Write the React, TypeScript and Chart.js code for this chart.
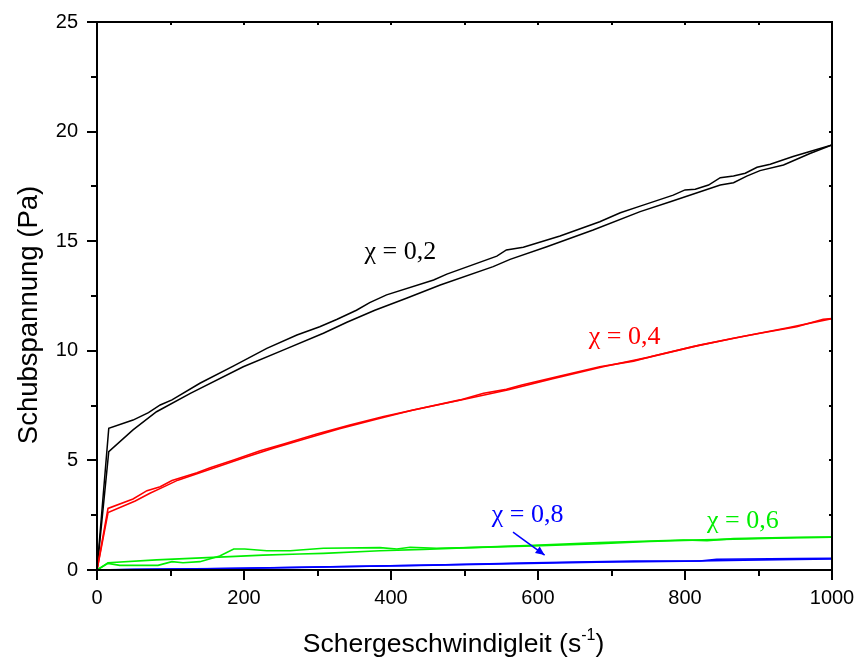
import React, { useEffect, useRef } from "react";
import { Chart, registerables } from "chart.js";
Chart.register(...registerables);

// ---- data ----
const blackUpX = [0, 16, 49, 70, 86, 102, 140, 186, 231, 272, 303, 326, 353, 371, 394, 458, 476, 544, 557, 580, 630, 684, 712, 739, 784, 800, 814, 832, 848, 866, 882, 898, 916, 947, 970, 1000];
const blackUpY = [0, 6.46, 6.84, 7.18, 7.53, 7.76, 8.52, 9.31, 10.11, 10.72, 11.1, 11.43, 11.85, 12.2, 12.55, 13.23, 13.5, 14.32, 14.6, 14.72, 15.24, 15.89, 16.3, 16.6, 17.1, 17.34, 17.37, 17.56, 17.9, 17.97, 18.1, 18.37, 18.51, 18.86, 19.09, 19.39];
const blackDownX = [0, 16, 49, 81, 127, 199, 254, 308, 340, 378, 421, 467, 539, 562, 612, 675, 739, 780, 848, 866, 884, 902, 934, 952, 970, 1000];
const blackDownY = [0, 5.4, 6.39, 7.22, 8.06, 9.27, 10.04, 10.8, 11.3, 11.85, 12.4, 13.0, 13.84, 14.17, 14.75, 15.51, 16.35, 16.8, 17.56, 17.67, 17.97, 18.22, 18.48, 18.74, 19.0, 19.39];

const redUpX = [0, 15, 49, 68, 86, 102, 136, 154, 186, 222, 254, 299, 344, 390, 494, 526, 557, 578, 630, 684, 730, 757, 811, 866, 902, 952, 988, 1000];
const redUpY = [0, 2.81, 3.24, 3.62, 3.8, 4.08, 4.44, 4.67, 5.02, 5.44, 5.75, 6.2, 6.61, 7.0, 7.76, 8.06, 8.24, 8.44, 8.85, 9.27, 9.53, 9.76, 10.19, 10.57, 10.8, 11.1, 11.44, 11.47];
const redDownX = [0, 15, 52, 72, 90, 110, 150, 200, 240, 280, 330, 380, 430, 500, 560, 620, 690, 750, 820, 880, 940, 1000];
const redDownY = [0, 2.62, 3.15, 3.5, 3.78, 4.1, 4.55, 5.12, 5.56, 5.95, 6.45, 6.88, 7.3, 7.79, 8.22, 8.73, 9.28, 9.7, 10.26, 10.66, 11.05, 11.47];

const greenAX = [0, 15, 81, 127, 181, 226, 276, 308, 385, 444, 507, 594, 684, 752, 798, 866, 952, 1000];
const greenAY = [0, 0.33, 0.46, 0.53, 0.61, 0.68, 0.73, 0.76, 0.88, 0.94, 1.02, 1.1, 1.2, 1.3, 1.35, 1.41, 1.47, 1.5];
const greenBX = [0, 15, 31, 83, 102, 117, 140, 167, 186, 201, 231, 263, 276, 308, 385, 408, 426, 462, 507, 594, 684, 752, 798, 830, 866, 952, 1000];
const greenBY = [0, 0.3, 0.21, 0.21, 0.38, 0.33, 0.38, 0.64, 0.96, 0.96, 0.88, 0.88, 0.91, 0.99, 1.02, 0.96, 1.04, 0.99, 1.02, 1.13, 1.25, 1.32, 1.37, 1.34, 1.43, 1.49, 1.5];

const blueAX = [0, 50, 150, 276, 458, 594, 730, 820, 843, 952, 1000];
const blueAY = [0, 0.03, 0.06, 0.12, 0.23, 0.33, 0.41, 0.41, 0.49, 0.52, 0.53];
const blueBX = [0, 100, 200, 300, 420, 550, 680, 800, 880, 1000];
const blueBY = [0, 0.04, 0.08, 0.14, 0.2, 0.28, 0.36, 0.4, 0.45, 0.5];

// ---- ticks ----
const xMajorTicks = [0, 200, 400, 600, 800, 1000];
const xMinorTicks = [100, 300, 500, 700, 900];
const yMajorTicks = [0, 5, 10, 15, 20, 25];
const yMinorTicks = [2.5, 7.5, 12.5, 17.5, 22.5];

// ---- labels ----
const annotations = [
  { text: "\u03C7 = 0,2", x: 364, y: 14.48, color: "#000000" },
  { text: "\u03C7 = 0,4", x: 669, y: 10.64, color: "#ff0000" },
  { text: "\u03C7 = 0,8", x: 537, y: 2.49, color: "#0000ff" },
  { text: "\u03C7 = 0,6", x: 830, y: 2.24, color: "#00ee00" },
];
const arrowFrom = { x: 566, y: 1.73 };
const arrowTo = { x: 609, y: 0.68 };

const xTitle = "Schergeschwindigleit (s";
const xTitleSup = "-1";
const yTitle = "Schubspannung (Pa)";

const pts = (xs: number[], ys: number[]) => xs.map((x, i) => ({ x, y: ys[i] }));

const SANS = "'Liberation Sans', Arial, sans-serif";

const overlay = {
  id: "overlay",
  afterDraw(chart: any) {
    const { ctx, chartArea: a, scales } = chart;
    const sx = scales.x, sy = scales.y;
    ctx.save();
    ctx.strokeStyle = "#000";
    ctx.lineWidth = 2;
    ctx.lineCap = "butt";
    ctx.strokeRect(a.left, a.top, a.right - a.left, a.bottom - a.top);
    ctx.beginPath();
    const xAll = [...xMajorTicks.map((v) => [v, 10]), ...xMinorTicks.map((v) => [v, 6])];
    for (const [v, len] of xAll) {
      const p = Math.round(sx.getPixelForValue(v));
      ctx.moveTo(p, a.bottom);
      ctx.lineTo(p, a.bottom + len);
      ctx.moveTo(p, a.top);
      ctx.lineTo(p, a.top + 3);
    }
    const yAll = [...yMajorTicks.map((v) => [v, 10]), ...yMinorTicks.map((v) => [v, 6])];
    for (const [v, len] of yAll) {
      const p = Math.round(sy.getPixelForValue(v));
      ctx.moveTo(a.left, p);
      ctx.lineTo(a.left - len, p);
      ctx.moveTo(a.right, p);
      ctx.lineTo(a.right - 3, p);
    }
    ctx.stroke();

    // annotations
    ctx.font = "26px 'Liberation Serif', 'Times New Roman', serif";
    ctx.textBaseline = "middle";
    ctx.textAlign = "left";
    for (const an of annotations) {
      ctx.fillStyle = an.color;
      ctx.fillText(an.text, sx.getPixelForValue(an.x), sy.getPixelForValue(an.y));
    }
    // arrow
    const x1 = sx.getPixelForValue(arrowFrom.x), y1 = sy.getPixelForValue(arrowFrom.y);
    const x2 = sx.getPixelForValue(arrowTo.x), y2 = sy.getPixelForValue(arrowTo.y);
    ctx.strokeStyle = "#0000ff";
    ctx.fillStyle = "#0000ff";
    ctx.lineWidth = 1.5;
    ctx.beginPath();
    ctx.moveTo(x1, y1);
    ctx.lineTo(x2, y2);
    ctx.stroke();
    const ang = Math.atan2(y2 - y1, x2 - x1);
    const hl = 9, hw = 4;
    ctx.beginPath();
    ctx.moveTo(x2, y2);
    ctx.lineTo(x2 - hl * Math.cos(ang) + hw * Math.sin(ang), y2 - hl * Math.sin(ang) - hw * Math.cos(ang));
    ctx.lineTo(x2 - hl * Math.cos(ang) - hw * Math.sin(ang), y2 - hl * Math.sin(ang) + hw * Math.cos(ang));
    ctx.closePath();
    ctx.fill();

    // axis titles
    ctx.fillStyle = "#000";
    const big = `26.5px ${SANS}`, small = `16px ${SANS}`;
    ctx.font = big;
    ctx.textBaseline = "alphabetic";
    const cx = (a.left + a.right) / 2 - 11;
    const wMain = ctx.measureText(xTitle).width;
    ctx.font = small;
    const wSup = ctx.measureText(xTitleSup).width;
    ctx.font = big;
    const wClose = ctx.measureText(")").width;
    const total = wMain + wSup + wClose;
    let tx = cx - total / 2;
    const by = 652;
    ctx.fillText(xTitle, tx, by);
    tx += wMain;
    ctx.font = small;
    ctx.fillText(xTitleSup, tx, by - 12);
    tx += wSup;
    ctx.font = big;
    ctx.fillText(")", tx, by);

    ctx.font = `27.5px ${SANS}`;
    ctx.translate(37, (a.top + a.bottom) / 2 + 19);
    ctx.rotate(-Math.PI / 2);
    ctx.textAlign = "center";
    ctx.fillText(yTitle, 0, 0);
    ctx.restore();
  },
};

export default function App() {
  const ref = useRef<HTMLCanvasElement>(null);
  useEffect(() => {
    const ds = (label: string, xs: number[], ys: number[], color: string, w: number) => ({
      label,
      data: pts(xs, ys),
      borderColor: color,
      backgroundColor: color,
      borderWidth: w,
      showLine: true,
      pointRadius: 0,
      tension: 0,
    });
    const chart = new Chart(ref.current as HTMLCanvasElement, {
      type: "scatter",
      data: {
        datasets: [
          ds("blue up", blueAX, blueAY, "#0000ff", 1.6),
          ds("blue down", blueBX, blueBY, "#0000ff", 1.6),
          ds("green up", greenAX, greenAY, "#00ee00", 1.6),
          ds("green down", greenBX, greenBY, "#00ee00", 1.6),
          ds("red up", redUpX, redUpY, "#ff0000", 1.6),
          ds("red down", redDownX, redDownY, "#ff0000", 1.6),
          ds("black up", blackUpX, blackUpY, "#000000", 1.5),
          ds("black down", blackDownX, blackDownY, "#000000", 1.5),
        ],
      },
      options: {
        animation: false,
        responsive: false,
        layout: { padding: { top: 22, right: 28, left: 0, bottom: 0 } },
        plugins: { legend: { display: false }, tooltip: { enabled: false } },
        scales: {
          x: {
            type: "linear",
            min: 0,
            max: 1000,
            afterFit: (s: any) => { s.height = 92; s.paddingLeft = 0; s.paddingRight = 0; },
            afterBuildTicks: (s: any) => { s.ticks = xMajorTicks.map((v) => ({ value: v })); },
            grid: { display: false },
            border: { display: false },
            ticks: {
              padding: 8,
              color: "#000",
              font: { family: SANS, size: 20 },
              maxRotation: 0,
              callback: (v: any) => String(v),
            },
          },
          y: {
            type: "linear",
            min: 0,
            max: 25,
            afterFit: (s: any) => { s.width = 97; s.paddingTop = 0; s.paddingBottom = 0; },
            afterBuildTicks: (s: any) => { s.ticks = yMajorTicks.map((v) => ({ value: v })); },
            grid: { display: false },
            border: { display: false },
            ticks: {
              padding: 11,
              color: "#000",
              font: { family: SANS, size: 20 },
              callback: (v: any) => String(v),
            },
          },
        },
      },
      plugins: [overlay],
    } as any);
    return () => chart.destroy();
  }, []);
  return (
    <div style={{ position: "absolute", left: 0, top: 0, width: 860, height: 662, background: "#fff" }}>
      <canvas ref={ref} width={860} height={662} style={{ display: "block" }} />
    </div>
  );
}
